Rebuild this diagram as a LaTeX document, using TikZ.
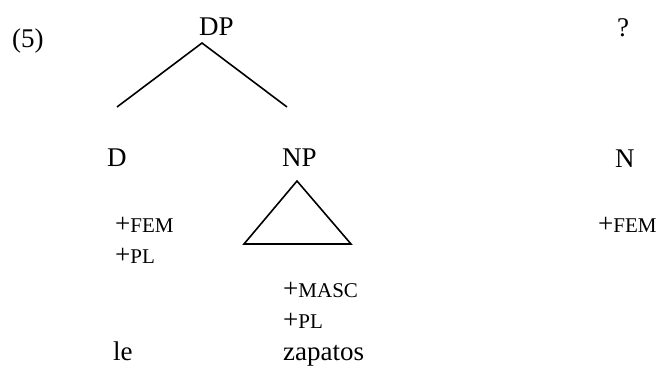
\documentclass[tikz,border=0pt]{standalone}
\usepackage{fontspec}
\setmainfont{Liberation Serif}
\newcommand{\feat}[1]{+{\fontsize{21}{24}\selectfont #1}}
\tikzset{
  lbl/.style={anchor=base west, inner sep=0pt, font=\fontsize{27}{31}\selectfont},
  branch/.style={line width=1.6pt}
}
\begin{document}
\begin{tikzpicture}[x=1pt,y=1pt]
    \useasboundingbox (0,0) rectangle (660,365);
    % labels
    \node[lbl] (ex) at (12,317) {(5)};
    \node[lbl] (dp) at (199,329) {DP};
    \node[lbl] (q) at (617,328) {?};
    \node[lbl] (d) at (107,199) {D};
    \node[lbl] (np) at (282,199) {NP};
    \node[lbl] (n) at (615,198) {N};
    \node[lbl] (dfem) at (115,133) {\feat{FEM}};
    \node[lbl] (dpl) at (115,102) {\feat{PL}};
    \node[lbl] (nfem) at (598,133) {\feat{FEM}};
    \node[lbl] (npmasc) at (283,68) {\feat{MASC}};
    \node[lbl] (nppl) at (283,37) {\feat{PL}};
    \node[lbl] (le) at (113,5) {le};
    \node[lbl] (zap) at (283,5) {zapatos};
    % branches
    \coordinate (top) at (202,322);
    \coordinate (lft) at (117,258);
    \coordinate (rgt) at (287,258);
    \draw[branch] (lft) -- (top) -- (rgt);
    % triangle
    \draw[branch] (297,184) -- (244,121) -- (351,121) -- cycle;
\end{tikzpicture}
\end{document}
